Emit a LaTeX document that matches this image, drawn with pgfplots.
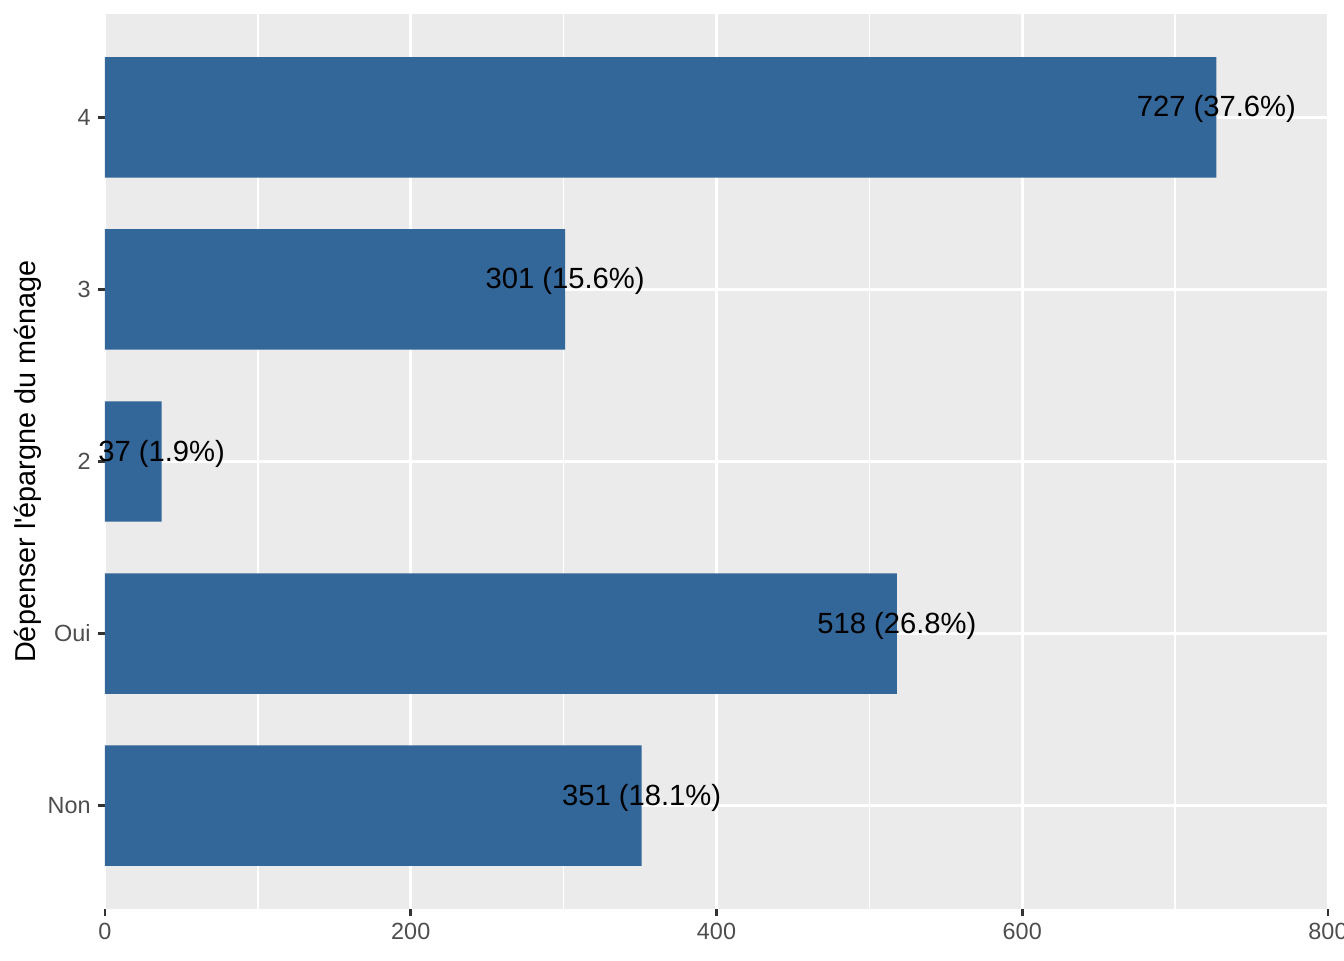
\documentclass[border=0pt]{standalone}
\usepackage{pgfplots}
\pgfplotsset{compat=1.18}
\usepackage{pgfplotstable}
\usepackage{fontspec}
\setmainfont{Liberation Sans}
\definecolor{barblue}{HTML}{336699}
\definecolor{panelbg}{HTML}{EBEBEB}
\definecolor{ticklab}{HTML}{4D4D4D}
\definecolor{tickcol}{HTML}{333333}
\pgfplotstableread{
y val lab
1 351 {351 (18.1\%)}
2 518 {518 (26.8\%)}
3 37 {37 (1.9\%)}
4 301 {301 (15.6\%)}
5 727 {727 (37.6\%)}
}\datatable
\begin{document}
\begin{tikzpicture}
\useasboundingbox (-52.5pt,-25.5pt) rectangle (619.5pt,454.5pt);
\begin{axis}[
  at={(0,0)}, anchor=south west,
  scale only axis,
  width=611.5pt, height=447.5pt,
  xmin=0, xmax=800, ymin=0.4, ymax=5.6,
  xbar, bar width=0.7,
  axis background/.style={fill=panelbg},
  axis x line*=bottom, axis y line*=left,
  axis line style={draw=none},
  xtick={0,200,400,600,800},
  minor xtick={100,300,500,700},
  ytick={1,2,3,4,5},
  yticklabels={Non,Oui,2,3,4},
  xmajorgrids, ymajorgrids, xminorgrids,
  major grid style={white, line width=1.4pt},
  minor grid style={white, line width=0.7pt},
  tick align=outside,
  major tick length=3.67pt,
  minor tick length=0pt,
  every tick/.style={tickcol, line width=1.4pt},
  tick label style={font=\fontsize{11.7}{14}\selectfont, text=ticklab},
  /pgf/number format/assume math mode=true,
  ylabel={Dépenser l\textquotesingle épargne du ménage},
  ylabel style={at={(axis description cs:-0.063,0.5)}, anchor=center, font=\fontsize{14.4}{17}\selectfont, text=black},
  nodes near coords,
  point meta=explicit symbolic,
  every node near coord/.append style={anchor=center, yshift=4pt, font=\fontsize{14.6}{17}\selectfont, text=black, inner sep=0pt},
  clip=true,
]
\addplot[fill=barblue, draw=none] table[x=val, y=y, meta=lab] {\datatable};
\end{axis}
\end{tikzpicture}
\end{document}
